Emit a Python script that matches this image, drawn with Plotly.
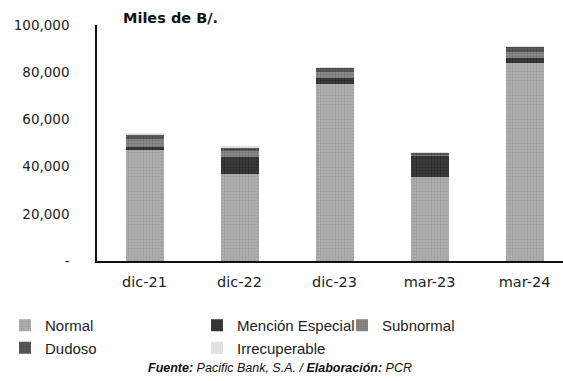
import plotly.graph_objects as go

categories = ["dic-21", "dic-22", "dic-23", "mar-23", "mar-24"]
normal = [47200, 36900, 75000, 35500, 84000]
mencion_especial = [1300, 7200, 2500, 9000, 2000]
subnormal = [3000, 2500, 2500, 800, 2500]
dudoso = [2300, 1700, 2000, 500, 2400]
irrecuperable = [200, 100, 200, 100, 200]

y_tickvals = [0, 20000, 40000, 60000, 80000, 100000]
y_ticktext = ["-", "20,000", "40,000", "60,000", "80,000", "100,000"]

W, H = 563, 381
ML, MR, MT, MB = 97, 0, 25, 120
PW, PH = W - ML - MR, H - MT - MB
FONT = "Liberation Sans, Arial, sans-serif"
TICKFONT = "DejaVu Sans, sans-serif"

series = [
    ("Normal", normal, "#b0b0b0", "#858585", "legend"),
    ("Mención Especial", mencion_especial, "#3a3a3a", "#1a1a1a", "legend2"),
    ("Subnormal", subnormal, "#8a8a8a", "#5a5a5a", "legend3"),
    ("Dudoso", dudoso, "#5a5a5a", "#333333", "legend"),
    ("Irrecuperable", irrecuperable, "#e6e6e6", "#cccccc", "legend2"),
]

fig = go.Figure()
for name, vals, bg, fg, lg in series:
    fig.add_trace(go.Bar(
        x=categories, y=vals, name=name, legend=lg,
        marker=dict(color=bg, line=dict(width=0),
                    pattern=dict(shape=".", fgcolor=fg, bgcolor=bg, size=3, solidity=0.4)),
    ))

def cx(px):
    return px / W

def cy(py):
    return 1 - py / H

def px_(px):
    return (px - ML) / PW

def py_(py):
    return (H - MB - py) / PH

legend_common = dict(
    xref="container", yref="container", xanchor="left", yanchor="top",
    orientation="v", bgcolor="rgba(0,0,0,0)", borderwidth=0,
    font=dict(family=FONT, size=15, color="#222"), itemwidth=30,
    tracegroupgap=0, traceorder="normal",
)

fig.update_layout(
    width=W, height=H,
    margin=dict(l=ML, r=MR, t=MT, b=MB, autoexpand=False),
    paper_bgcolor="white", plot_bgcolor="white",
    barmode="stack", bargap=0.6,
    font=dict(family=FONT, size=14, color="#222"),
    legend=dict(x=cx(5), y=cy(309), **legend_common),
    legend2=dict(x=cx(197), y=cy(309), **legend_common),
    legend3=dict(x=cx(342), y=cy(309), **legend_common),
    xaxis=dict(
        range=[-0.5, 4.405], showline=True, linecolor="#111", linewidth=2,
        ticks="", showgrid=False, ticklabelstandoff=7,
        tickfont=dict(family=TICKFONT, size=14.5, color="#222"),
    ),
    yaxis=dict(
        range=[0, 100000], tickvals=y_tickvals, ticktext=y_ticktext,
        showline=True, linecolor="#111", linewidth=1.5, showgrid=False,
        ticks="", zeroline=False, ticklabelstandoff=23,
        tickfont=dict(family=TICKFONT, size=13.5, color="#222"),
    ),
    annotations=[
        dict(text="<b>Miles de B/.</b>", xref="paper", yref="paper", x=px_(121), y=py_(18),
             xanchor="left", yanchor="middle", showarrow=False,
             font=dict(family=TICKFONT, size=14.5, color="#111")),
        dict(text="<b>Fuente:</b> Pacific Bank, S.A. / <b>Elaboración:</b> PCR",
             xref="paper", yref="paper", x=px_(280), y=py_(368),
             xanchor="center", yanchor="middle", showarrow=False,
             font=dict(family=FONT, size=12.5, color="#111", style="italic")),
    ],
)

fig.write_html("out.html")
